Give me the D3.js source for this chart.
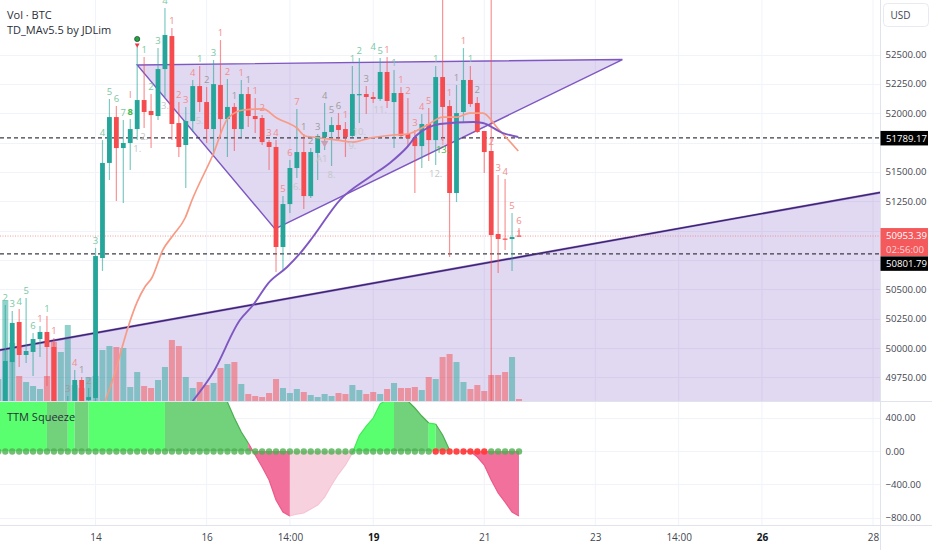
<!DOCTYPE html>
<html><head><meta charset="utf-8">
<style>
html,body{margin:0;padding:0;background:#fff;overflow:hidden}
svg{display:block}
text{font-family:"Open Sans",Roboto,sans-serif}
</style>
<script src="https://d3js.org/d3.v7.min.js"></script>
</head><body><svg id="c" width="932" height="550"></svg>
<script>
const firstIndex=-1;
const opens=[49300,49472,49880,50221,49940,49966,50076,50136,50008,49420,49455,49514,49727,49557,49574,50766,51576,51967,51703,51746,51865,52112,52019,51976,52376,52657,51916,51729,51933,52231,52095,51865,52240,51950,52053,51865,52163,51976,51959,51754,51712,50860,51226,51533,51669,51294,51661,51797,51840,51899,51865,51806,52155,52163,52138,52121,52351,52095,52172,51823,51789,51720,51908,51771,52308,52061,51320,52010,52283,52087,51848,51678,50971,50932,50928,50958];
const highs=[49380,50366,50315,50332,50426,50127,50187,50272,50085,49530,49591,49812,49753,49659,50852,51771,52121,52061,51942,51950,52564,52478,52163,52555,52896,52725,52095,52053,52283,52402,52223,52453,52623,52291,52087,52283,52223,52129,51984,51771,51771,51294,51601,52036,51823,51703,51823,52087,51967,52001,51925,52402,52470,52231,52180,52470,52478,52368,52223,52129,51857,51993,52044,52402,53220,52112,52240,52555,52402,52138,51848,53220,51473,51439,51150,51022];
const lows=[49280,49429,49514,49838,49872,49761,49923,49676,49429,49380,49386,49455,49455,49540,49540,50656,51431,51252,51235,51516,51771,51874,51703,51942,52138,51771,51627,51363,51840,52010,51746,51644,51789,51627,51678,51797,51882,51831,51729,51516,50647,50664,51150,51448,51184,51277,51431,51686,51550,51771,51627,51797,51916,51993,52087,52104,52044,51703,51797,51712,51320,51533,51593,51559,51763,50775,51243,51916,52053,51831,51490,49540,50639,50834,50656,50945];
const closes=[49350,49889,50213,49940,49974,50076,50136,50008,49472,49500,49531,49727,49514,49582,50783,51576,51967,51703,51746,51865,52112,52010,51984,52376,52666,51908,51712,51933,52231,52095,51865,52248,51950,52053,51865,52163,51976,51950,51754,51712,50860,51226,51533,51669,51294,51669,51806,51840,51899,51857,51797,52163,52163,52138,52121,52351,52104,52172,51806,51789,51720,51908,51771,52308,52053,51320,52001,52283,52078,51840,51669,50962,50928,50928,50945,50953.39];
const volumes=[22,101,58,25,19,15,12,25,59,49,76,16,13,24,25,51,55,54,53,14,29,15,13,21,34,61,55,24,13,19,16,18,33,37,39,17,7,5,4,8,22,13,8,12,9,6,4,7,5,8,7,16,11,7,9,7,12,18,13,13,14,11,24,22,44,47,39,19,12,16,10,26,26,29,44,2];
const squeeze=[820,840,860,870,880,880,870,860,850,850,860,870,900,950,1000,1050,1080,1100,1100,1080,1060,1040,1020,1000,980,950,920,890,860,820,780,720,660,588,396,228,96,-48,-192,-348,-588,-732,-780,-756,-744,-696,-648,-552,-408,-276,-168,-24,185,300,396,564,620,640,640,600,516,420,336,324,192,12,0,-2,-5,-72,-168,-348,-504,-612,-732,-780];
const squeezeRuns=[[-1,6,"up"],[6,9,"upDim"],[9,10,"up"],[10,12,"upDim"],[12,23,"up"],[23,35,"upDim"],[35,41,"down"],[41,50,"downDim"],[50,56,"up"],[56,61,"upDim"],[61,62,"up"],[62,64,"upDim"],[66,74,"down"]];
const squeezeOnRange=[62,69];
const fastK=[14.4,15.8,16.8,17.7,19,20.1,21.1,22.7,24.2,25.9,26.9,29.9,32.1,34.3,37.1,39.1,42,43.2,44.3,47.8,50.1,52.6,55.9,58,60.8,63,65.1,66.9,68.8,70.9,73.9];
const fastP=[49548,49787,50000,50179,50392,50519,50596,50835,50962,51107,51260,51644,51959,52027,52036,51959,51874,51806,51797,51771,51754,51789,51814,51823,51899,51967,51967,52001,52001,51874,51678];
const slowK=[27,29.9,33.8,35.7,37.9,40.6,42.5,44.3,48.2,52.5,55.4,57.9,59.3,60.8,62.6,67.4,68.8,71.7,73.9];
const slowP=[49548,49787,50238,50366,50553,50690,50809,50945,51260,51456,51576,51712,51814,51874,51908,51925,51916,51831,51797];
const triK=[19,88.9,38.85];
const triP=[52411,52457,51014];
const trendK=[-1,127];
const trendP=[49980,51335];
const priceLines=[51789.17,50801.79];
const lastPrice=50953.39;
const priceGrid=[52500,52250,52000,51750,51500,51250,51000,50750,50500,50250,50000,49750];
const priceTicks=[52500,52250,52000,51500,51250,50500,50250,50000,49750];
const squeezeTicks=[400,0,-400,-800];
const timeK=[13,29,41,53,69,85,97,109,125];
const timeLabels=["14","16","14:00","19","21","23","14:00","26","28"];
const timeBold=["19","26"];
const tdAbove=[[0,"2","g"],[1,"3","g"],[2,"4","g"],[3,"5","g"],[4,"6","g"],[5,"1","r"],[6,"1","g"],[7,"1","r"],[9,"3","n"],[10,"4","r"],[11,"1","n"],[12,"2","n"],[13,"3","g"],[14,"4","g"],[15,"5","g"],[16,"6","g"],[17,"7","g"],[18,"8","b"],[18,"I","r",52099],[20,"1","g"],[21,"2","g"],[22,"3","g"],[23,"4","g"],[24,"1","r"],[25,"2","r"],[26,"3","r"],[27,"4","r"],[28,"1","g"],[29,"2","n"],[30,"3","g"],[31,"1","r"],[32,"2","r"],[33,"1","n"],[34,"1","r"],[35,"1","n"],[36,"1","r"],[37,"2","r"],[38,"3","r"],[39,"4","r"],[40,"5","r"],[41,"6","r"],[42,"7","r"],[43,"1","n"],[44,"2","n"],[45,"3","n"],[46,"4","n"],[47,"5","n"],[48,"6","n"],[49,"1","r"],[50,"1","g"],[51,"2","g"],[52,"3","n"],[53,"4","g",52508],[54,"5","g"],[55,"1","r"],[56,"1","g"],[57,"1","r"],[58,"2","r"],[59,"3","r"],[60,"4","r"],[61,"5","r"],[62,"1","g"],[63,"1","r",51691],[64,"1","r"],[65,"1","n"],[66,"1","r"],[67,"1","g"],[68,"2","n"],[70,"2","r",51699],[71,"3","r"],[72,"4","r"],[73,"5","r"],[74,"6","r"],[74,"1","r",50915]];
const tdBelow=[[19,"1."],[20,"2."],[23,"3."],[28,"5."],[42,"6."],[47,"8."],[50,"9."],[51,"10."],[54,"11."],[62,"12."],[63,"13."]];

const W=932,H=550,plotR=880.5,mainB=401,lowB=525.5;
const GREEN="#26a69a",RED="#f44c4f",PURPLE="#7e57c2",LAV="#7e57c2";
const stateColor={up:"#5aff6f",upDim:"#72d27c",down:"#f2709c",downDim:"#f8d1df"};
const stateEdge={up:"#46e85a",upDim:"#4caf50",down:"#ec5a8a",downDim:"#f6c3d4"};
const toneColor={g:"#7ac8a4",r:"#f28d8d",n:"#9c9c9c",b:"#3dbb4a"};

const x=d3.scaleLinear().domain([0,125]).range([5.3,873]);
const y=d3.scaleLinear().domain([52500,49750]).range([54.5,377.3]);
const vy=d3.scaleLinear().domain([0,110]).range([mainB,291]);
const sy=d3.scaleLinear().domain([400,-800]).range([417.7,517.7]);
const kOf=i=>i+firstIndex;

const svg=d3.select("#c");
const defs=svg.append("defs");
defs.append("clipPath").attr("id","main").append("rect").attr("width",plotR).attr("height",mainB);
defs.append("clipPath").attr("id","low").append("rect").attr("y",mainB+1).attr("width",plotR).attr("height",lowB-mainB-1);

// grid
const grid=svg.append("g").attr("stroke","#f0f3fa").attr("stroke-width",1);
grid.selectAll("line.v").data(timeK).join("line").attr("class","v")
  .attr("x1",d=>x(d)).attr("x2",d=>x(d)).attr("y1",0).attr("y2",lowB);
grid.selectAll("line.h").data(priceGrid).join("line").attr("class","h")
  .attr("x1",0).attr("x2",plotR).attr("y1",d=>Math.round(y(d))+.5).attr("y2",d=>Math.round(y(d))+.5);
grid.selectAll("line.s").data(squeezeTicks).join("line").attr("class","s")
  .attr("x1",0).attr("x2",plotR).attr("y1",d=>Math.round(sy(d))+.5).attr("y2",d=>Math.round(sy(d))+.5);

const main=svg.append("g").attr("clip-path","url(#main)");

// big wedge fill + triangle
const trendArea=d3.area().x((d,i)=>x(trendK[i])).y1(d=>y(d)).y0(mainB+2);
main.append("path").datum(trendP).attr("d",trendArea).attr("fill",LAV).attr("fill-opacity",.23);
const triLine=d3.line().x((d,i)=>x(triK[i])).y(d=>y(d));
main.append("path").attr("d",triLine(triP)+"Z").attr("fill",LAV).attr("fill-opacity",.23).attr("stroke",PURPLE).attr("stroke-width",1.4);

// volume
main.append("g").selectAll("rect").data(volumes).join("rect")
  .attr("x",(d,i)=>x(kOf(i))-3).attr("width",6)
  .attr("y",d=>vy(d)).attr("height",d=>mainB-vy(d))
  .attr("fill",(d,i)=>closes[i]>=opens[i]?GREEN:RED).attr("fill-opacity",.5);

// trend line
const trendLine=d3.line().x((d,i)=>x(trendK[i])).y(d=>y(d));
main.append("path").attr("d",trendLine(trendP)).attr("fill","none").attr("stroke",PURPLE).attr("stroke-width",2.2);
main.append("path").attr("d",trendLine(trendP)).attr("fill","none").attr("stroke","#1a1438").attr("stroke-width",.8);

// horizontal price lines
main.selectAll("line.pl").data(priceLines).join("line").attr("class","pl")
  .attr("x1",0).attr("x2",plotR).attr("y1",d=>y(d)).attr("y2",d=>y(d))
  .attr("stroke","#3d3d48").attr("stroke-width",1.3).attr("stroke-dasharray","4 3");
main.append("line").attr("x1",0).attr("x2",plotR).attr("y1",y(lastPrice)).attr("y2",y(lastPrice))
  .attr("stroke","#f47c7c").attr("stroke-opacity",.75).attr("stroke-width",1).attr("stroke-dasharray","1 1.5");

// candles
const candles=main.append("g");
candles.selectAll("line").data(highs).join("line")
  .attr("x1",(d,i)=>x(kOf(i))).attr("x2",(d,i)=>x(kOf(i)))
  .attr("y1",d=>y(d)).attr("y2",(d,i)=>y(lows[i]))
  .attr("stroke",(d,i)=>closes[i]>=opens[i]?GREEN:RED).attr("stroke-opacity",.6).attr("stroke-width",1.2);
candles.selectAll("rect").data(opens).join("rect")
  .attr("x",(d,i)=>x(kOf(i))-2.4).attr("width",4.8)
  .attr("y",(d,i)=>y(Math.max(d,closes[i])))
  .attr("height",(d,i)=>Math.max(1.2,Math.abs(y(d)-y(closes[i]))))
  .attr("fill",(d,i)=>closes[i]>=opens[i]?GREEN:RED);

// moving averages
const maLine=ks=>d3.line().x((d,i)=>x(ks[i])).y(d=>y(d)).curve(d3.curveMonotoneX);
main.append("path").attr("d",maLine(fastK)(fastP)).attr("fill","none").attr("stroke","#f89a84").attr("stroke-width",1.7);
main.append("path").attr("d",maLine(slowK)(slowP)).attr("fill","none").attr("stroke",PURPLE).attr("stroke-width",1.9);

// TD labels
const priceOfHigh=d=>d[3]!==undefined?d[3]:highs[d[0]-firstIndex];
main.append("g").selectAll("text").data(tdAbove).join("text")
  .attr("x",d=>x(d[0])).attr("y",d=>y(priceOfHigh(d))-4)
  .attr("text-anchor","middle").attr("font-size",9.5)
  .attr("font-weight",d=>d[2]==="b"?700:400)
  .attr("fill",d=>toneColor[d[2]]).text(d=>d[1]);
main.append("g").selectAll("text").data(tdBelow).join("text")
  .attr("x",d=>x(d[0])).attr("y",d=>y(lows[d[0]-firstIndex])+12)
  .attr("text-anchor","middle").attr("font-size",9.5)
  .attr("fill",d=>d[1]==="13."?"#3dbb4a":"#c4c8c8").text(d=>d[1]);
main.append("text").attr("x",x(45.6)).attr("y",y(lows[47])+12).attr("text-anchor","middle").attr("font-size",9.5).attr("fill","#c4c8c8").text("A1");
main.append("path").attr("d",d3.symbol(d3.symbolTriangle,26)()).attr("transform",`translate(${x(46)},${y(lows[47])-7}) rotate(180)`).attr("fill","#c9a0b0");

// pivot marker
main.append("circle").attr("cx",x(19)).attr("cy",y(highs[20])-8).attr("r",2.6).attr("fill","#1fa83a").attr("stroke","#123").attr("stroke-width",.6);
main.append("path").attr("d",d3.symbol(d3.symbolTriangle,10)()).attr("transform",`translate(${x(19)},${y(highs[20])-2}) rotate(180)`).attr("fill","#f23645");

// squeeze panel
const low=svg.append("g").attr("clip-path","url(#low)");
const ks=squeeze.map((d,i)=>kOf(i));
const sArea=d3.area().x(d=>x(d)).y0(sy(0)).y1(d=>sy(squeeze[d-firstIndex]));
const sLine=d3.line().x(d=>x(d)).y(d=>sy(squeeze[d-firstIndex]));
squeezeRuns.forEach(r=>{
  const seg=ks.filter(k=>k>=r[0]&&k<=r[1]);
  low.append("path").attr("d",sArea(seg)).attr("fill",stateColor[r[2]]);
  low.append("path").attr("d",sLine(seg)).attr("fill","none").attr("stroke",stateEdge[r[2]]).attr("stroke-width",1.2);
});
low.append("g").selectAll("circle").data(ks).join("circle")
  .attr("cx",d=>x(d)).attr("cy",sy(0)+.5).attr("r",3.2)
  .attr("fill",d=>d>=squeezeOnRange[0]&&d<=squeezeOnRange[1]?"#ff3b3b":"#4caf50")
  .attr("fill-opacity",d=>d>=squeezeOnRange[0]&&d<=squeezeOnRange[1]?.95:.8);

// frame lines
const frame=svg.append("g").attr("stroke","#e0e3eb").attr("stroke-width",1);
frame.append("line").attr("x1",plotR).attr("x2",plotR).attr("y1",0).attr("y2",H);
frame.append("line").attr("x1",0).attr("x2",W).attr("y1",mainB+.5).attr("y2",mainB+.5);
frame.append("line").attr("x1",0).attr("x2",W).attr("y1",lowB).attr("y2",lowB);

// axes
const fmt=d3.format(".2f");
const styleAxis=g=>{g.select(".domain").remove();g.selectAll(".tick line").remove();
  g.selectAll("text").attr("fill","#434651").attr("font-size",9.6).attr("font-family","Roboto,sans-serif");};
svg.append("g").attr("transform",`translate(${plotR},0)`)
  .call(d3.axisRight(y).tickValues(priceTicks).tickFormat(fmt).tickSize(0).tickPadding(5)).call(styleAxis);
svg.append("g").attr("transform",`translate(${plotR},0)`)
  .call(d3.axisRight(sy).tickValues(squeezeTicks).tickFormat(fmt).tickSize(0).tickPadding(5)).call(styleAxis);
const tAxis=svg.append("g").attr("transform",`translate(0,${lowB})`)
  .call(d3.axisBottom(x).tickValues(timeK).tickFormat((d,i)=>timeLabels[i]).tickSize(0).tickPadding(8)).call(styleAxis);
tAxis.selectAll("text").attr("font-size",10).attr("font-weight",(d,i)=>timeBold.includes(timeLabels[i])?700:400)
  .attr("fill",(d,i)=>timeBold.includes(timeLabels[i])?"#131722":"#434651");

// price boxes
const boxes=svg.append("g");
function box(p,h,fill,lines,tcol,yTop){
  boxes.append("rect").attr("x",plotR).attr("width",47.5).attr("y",yTop).attr("height",h).attr("fill",fill);
  lines.forEach((t,i)=>boxes.append("text").attr("x",plotR+5.5).attr("y",yTop+11+i*13.5).attr("font-size",9.6)
    .attr("font-family","Roboto,sans-serif").attr("fill",tcol[i]).text(t));
}
box(priceLines[0],14.5,"#000",[fmt(priceLines[0])],["#fff"],y(priceLines[0])-7);
box(lastPrice,28,"#f4595c",[fmt(lastPrice),"02:56:00"],["#fff","#fcd3d4"],y(lastPrice)-8);
box(priceLines[1],14.5,"#000",[fmt(priceLines[1])],["#fff"],y(priceLines[1])+2.5);

// currency button
svg.append("rect").attr("x",883.5).attr("y",3.5).attr("width",45).attr("height",23).attr("rx",4).attr("fill","#fff").attr("stroke","#e8eaf2");
svg.append("text").attr("x",890.5).attr("y",18.5).attr("font-size",10).attr("font-family","Roboto,sans-serif").attr("fill","#434651").text("USD");

// legends
const leg=svg.append("g").attr("fill","#2a2e39").attr("font-size",11);
leg.append("text").attr("x",7).attr("y",19).text("Vol · BTC");
leg.append("text").attr("x",7).attr("y",34).text("TD_MAv5.5 by JDLim");
leg.append("text").attr("x",7).attr("y",421).text("TTM Squeeze");
</script></body></html>
